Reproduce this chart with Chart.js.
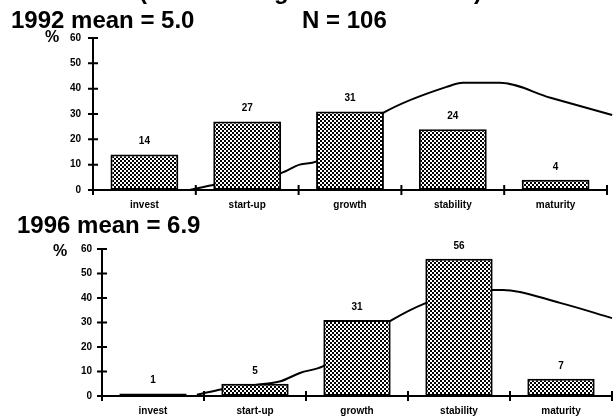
<!DOCTYPE html>
<html>
<head>
<meta charset="utf-8">
<script src="https://cdn.jsdelivr.net/npm/chart.js@4.4.1/dist/chart.umd.min.js"></script>
<style>
  body { margin: 0; background: #fff; font-family: "Liberation Sans", Arial, sans-serif; }
  #wrap { position: relative; width: 615px; height: 420px; overflow: hidden; background: #fff; }
  canvas { position: absolute; left: 0; top: 0; }
  .txt { position: absolute; font-weight: bold; color: #000; white-space: nowrap; line-height: 1; }
</style>
</head>
<body>
<div id="wrap">
  <canvas id="chart1992" width="615" height="420"></canvas>
  <canvas id="chart1996" width="615" height="420"></canvas>

  <div class="txt" style="left:139px; top:-21px; font-size:24px">(</div>
  <div class="txt" style="left:274px; top:-21px; font-size:24px">g</div>
  <div class="txt" style="left:474px; top:-21px; font-size:24px">)</div>

  <div class="txt" style="left:11px; top:8px; font-size:24px">1992 mean = 5.0</div>
  <div class="txt" style="left:302px; top:8px; font-size:24px">N = 106</div>
  <div class="txt" style="left:45px; top:29px; font-size:16px">%</div>

  <div class="txt" style="left:17px; top:213px; font-size:24px">1996 mean = 6.9</div>
  <div class="txt" style="left:53px; top:243px; font-size:16px">%</div>
</div>

<script>
const categories = ["invest", "start-up", "growth", "stability", "maturity"];
const yTicks = [0, 10, 20, 30, 40, 50, 60];

const values1992 = [14, 27, 31, 24, 4];
const values1996 = [1, 5, 31, 56, 7];

// smoothed curve drawn behind the bars (x in category units, 0 = first category)
const curveX1992 = [0.44, 0.67, 1.0, 1.33, 1.51, 1.67, 2.0, 2.34, 2.94, 3.10, 3.46, 3.95, 4.55];
const curveY1992 = [0, 2, 4, 6.7, 10, 11.2, 21, 30.8, 40.7, 42.3, 42.3, 36.4, 29.6];

const curveX1996 = [0.43, 0.68, 1.0, 1.25, 1.44, 1.67, 2.0, 2.34, 2.65, 3.0, 3.33, 3.43, 3.99, 4.5];
const curveY1996 = [0.5, 2.8, 4.5, 6, 9.4, 12.2, 22, 31, 37.5, 42, 43.3, 43.3, 38, 31.8];

Chart.defaults.font.family = "'Liberation Sans', Arial, sans-serif";
Chart.defaults.color = "#000";

function makePattern(ctx) {
    const c = document.createElement("canvas");
    c.width = 4;
    c.height = 4;
    const p = c.getContext("2d");
    p.fillStyle = "#fff";
    p.fillRect(0, 0, 4, 4);
    p.fillStyle = "#000";
    p.fillRect(0, 0, 2, 2);
    p.fillRect(2, 2, 2, 2);
    return ctx.createPattern(c, "repeat");
}

// tick marks crossing the axes + the numbers above the bars
const axisMarks = {
    id: "axisMarks",
    afterDraw(chart) {
        const ctx = chart.ctx;
        const yScale = chart.scales.y;
        const x2 = chart.scales.x2;
        const left = chart.chartArea.left;
        const bottom = chart.chartArea.bottom;
        ctx.save();
        ctx.strokeStyle = "#000";
        ctx.lineWidth = 2;
        ctx.beginPath();
        yTicks.forEach(v => {
            const py = yScale.getPixelForValue(v);
            ctx.moveTo(left - 5, py);
            ctx.lineTo(left + 5, py);
        });
        for (let i = 0; i <= categories.length; i++) {
            const px = x2.getPixelForValue(i - 0.5);
            ctx.moveTo(px, bottom - 5);
            ctx.lineTo(px, bottom + 5);
        }
        ctx.stroke();

        ctx.fillStyle = "#000";
        ctx.font = "bold 10px 'Liberation Sans', Arial, sans-serif";
        ctx.textAlign = "center";
        ctx.textBaseline = "middle";
        const data = chart.data.datasets[0].data;
        chart.getDatasetMeta(0).data.forEach((bar, i) => {
            ctx.fillText(String(data[i]), bar.x, bar.y - 13);
        });
        ctx.restore();
    }
};

function renderChart(id, values, curveX, curveY, padding, yPad, xHeight) {
    const canvas = document.getElementById(id);
    const ctx = canvas.getContext("2d");
    const points = curveX.map((x, i) => ({ x: x, y: curveY[i] }));

    new Chart(ctx, {
        type: "bar",
        data: {
            labels: categories,
            datasets: [{
                type: "bar",
                data: values,
                backgroundColor: makePattern(ctx),
                borderColor: "#000",
                borderWidth: 2,
                borderSkipped: false,
                barPercentage: 0.66,
                categoryPercentage: 1,
                grouped: false,
                order: 1
            }, {
                type: "line",
                data: points,
                xAxisID: "x2",
                borderColor: "#000",
                borderWidth: 2,
                pointRadius: 0,
                tension: 0.4,
                cubicInterpolationMode: "monotone",
                clip: false,
                order: 2
            }]
        },
        options: {
            responsive: false,
            animation: false,
            events: [],
            layout: { padding: padding },
            plugins: {
                legend: { display: false },
                tooltip: { enabled: false }
            },
            scales: {
                x: {
                    grid: { display: false, drawTicks: false },
                    border: { display: true, color: "#000", width: 2 },
                    ticks: { padding: 9, font: { size: 10, weight: "bold" }, color: "#000" },
                    afterFit: scale => { scale.height = xHeight; }
                },
                x2: {
                    type: "linear",
                    display: false,
                    offset: false,
                    min: -0.5,
                    max: 4.5
                },
                y: {
                    min: 0,
                    max: 60,
                    grid: { display: false, drawTicks: false },
                    border: { display: true, color: "#000", width: 2 },
                    ticks: { stepSize: 10, padding: yPad, font: { size: 10, weight: "bold" }, color: "#000" },
                    afterFit: scale => { scale.width = 30; }
                }
            }
        },
        plugins: [axisMarks]
    });
}

// top panel: plot area 93..607 x 38..190
renderChart("chart1992", values1992, curveX1992, curveY1992,
    { left: 63, right: 8, top: 38, bottom: 200 }, 12, 30);
// bottom panel: plot area 102..612 x 249..396
renderChart("chart1996", values1996, curveX1996, curveY1996,
    { left: 72, right: 3, top: 249, bottom: 0 }, 10, 24);
</script>
</body>
</html>
